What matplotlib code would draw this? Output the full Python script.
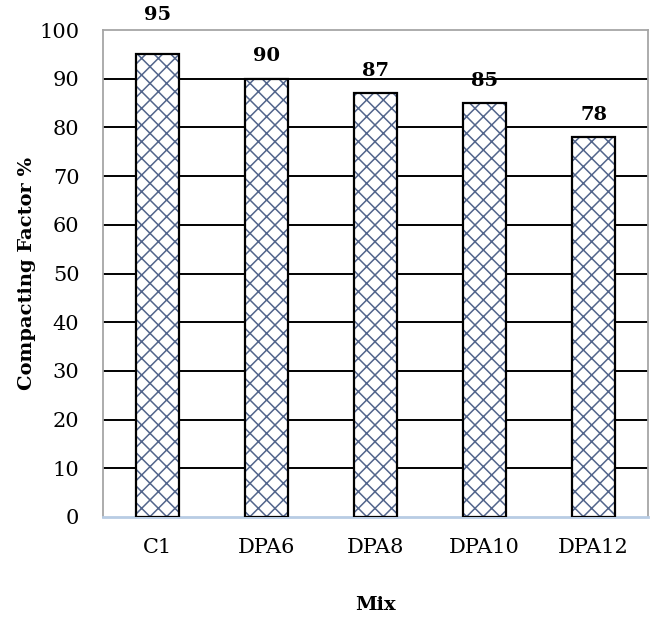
import matplotlib
matplotlib.use("Agg")
import matplotlib.pyplot as plt
import numpy as np

# Chart data
mixes = ["C1", "DPA6", "DPA8", "DPA10", "DPA12"]
compacting = [95, 90, 87, 85, 78]
y_ticks = [0, 10, 20, 30, 40, 50, 60, 70, 80, 90, 100]

HATCH = "#52658c"
BORDER = "#a6a6a6"
BASE = "#b8cce4"

plt.rcParams["font.family"] = ["DejaVu Serif"]
plt.rcParams["hatch.linewidth"] = 1.1
plt.rcParams["hatch.color"] = HATCH

fig = plt.figure(figsize=(6.58, 6.18), dpi=100)
ax = fig.add_axes([103 / 658, 1 - 517 / 618, 545 / 658, 487 / 618])

x = np.arange(len(mixes))
ax.set_xlim(-0.5, len(mixes) - 0.5)
ax.set_ylim(0, 100)

# gridlines (black, Excel style)
for t in y_ticks[1:-1]:
    ax.axhline(t, color="black", linewidth=1.4, zorder=1)

# hatched fill, then black outline
ax.bar(x, compacting, width=0.4, color="white", edgecolor=HATCH, hatch="xx",
       linewidth=0, zorder=2)
ax.bar(x, compacting, width=0.4, color="none", edgecolor="black",
       linewidth=1.6, zorder=3)

for xi, v in zip(x, compacting):
    ty = v + 4.6
    if ty > 98:
        ty = v + 8.0
    ax.text(xi, ty, str(v), ha="center", va="center", fontsize=14,
            fontweight="bold", clip_on=False)

ax.set_yticks(y_ticks)
ax.set_xticks(x)
ax.set_xticklabels(mixes)
ax.tick_params(axis="both", length=0, labelsize=15)
ax.tick_params(axis="x", pad=15)
ax.tick_params(axis="y", pad=17)

for side in ["left", "top", "right"]:
    ax.spines[side].set_color(BORDER)
    ax.spines[side].set_linewidth(1.3)
ax.spines["bottom"].set_color(BASE)
ax.spines["bottom"].set_linewidth(2.0)

ax.set_ylabel("Compacting Factor %", fontsize=14, fontweight="bold", labelpad=2)
ax.set_xlabel("Mix", fontsize=14, fontweight="bold", labelpad=28)

fig.savefig("out.png", dpi=100)
